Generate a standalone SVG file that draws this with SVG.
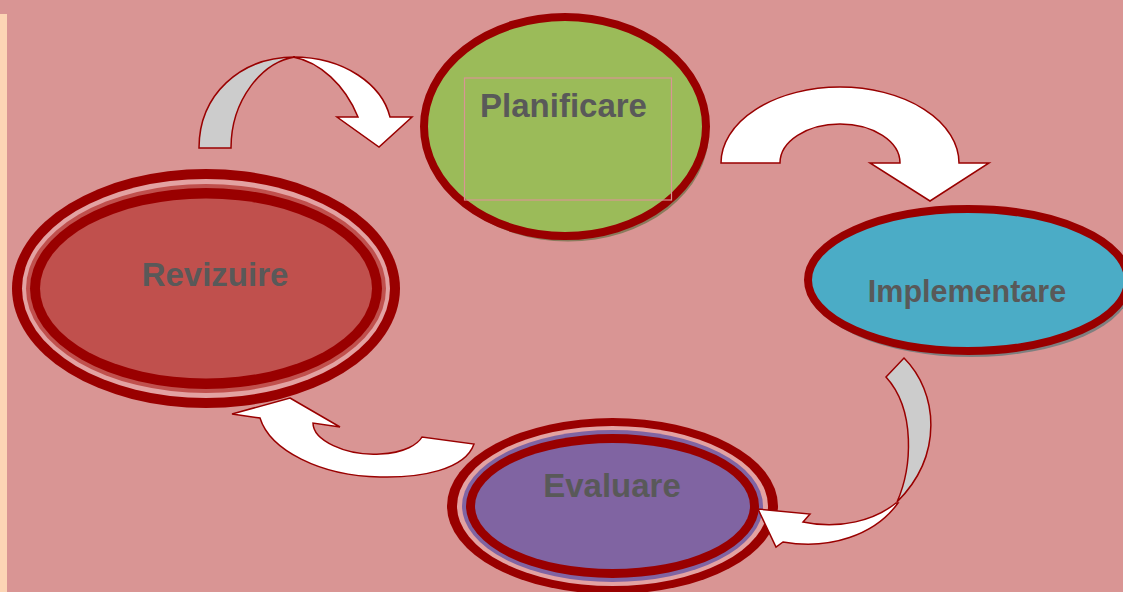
<svg xmlns="http://www.w3.org/2000/svg" width="1123" height="592" viewBox="0 0 1123 592">
  <style>
    .label { font-family: "Liberation Sans", Arial, sans-serif; font-weight: bold; fill: #595959; text-anchor: middle; }
    .arrow { stroke: #990000; stroke-width: 1.5; stroke-linejoin: miter; }
    .white { fill: #FFFFFF; }
    .grey { fill: #CCCCCC; }
    .ring { fill: #990000; }
  </style>

  <!-- page background -->
  <rect x="0" y="0" width="1123" height="592" fill="#D99594"/>
  <rect x="0" y="14" width="7" height="578" fill="#FCD5B5"/>

  <!-- Planificare -->
  <g id="node-planificare">
    <ellipse cx="568" cy="132" rx="141" ry="109.5" fill="#8A7A5C"/>
    <ellipse cx="565" cy="126.5" rx="141" ry="109.5" fill="#9BBB59" stroke="#990000" stroke-width="8"/>
    <rect x="464.5" y="78" width="207" height="122" fill="none" stroke="#D99594" stroke-width="1.2"/>
    <text class="label" x="563.5" y="117" font-size="33">Planificare</text>
  </g>

  <!-- Implementare -->
  <g id="node-implementare">
    <ellipse cx="971" cy="286" rx="160" ry="71" fill="#7F7F7F"/>
    <ellipse cx="968" cy="280" rx="160" ry="71" fill="#4BACC6" stroke="#990000" stroke-width="8"/>
    <text class="label" x="967" y="302" font-size="30.5">Implementare</text>
  </g>

  <!-- Evaluare: double border -->
  <g id="node-evaluare">
    <ellipse class="ring" cx="612.5" cy="506" rx="165.5" ry="88"/>
    <ellipse cx="612.5" cy="506" rx="155.5" ry="80" fill="#E3A2A2"/>
    <ellipse cx="612.5" cy="506" rx="150.5" ry="76" fill="#8064A2"/>
    <ellipse class="ring" cx="612.5" cy="506" rx="146.5" ry="72"/>
    <ellipse cx="612.5" cy="506" rx="137.5" ry="63" fill="#8064A2"/>
    <text class="label" x="612" y="497" font-size="33">Evaluare</text>
  </g>

  <!-- Revizuire: double border -->
  <g id="node-revizuire">
    <ellipse class="ring" cx="206" cy="288.5" rx="194" ry="119.5"/>
    <ellipse cx="206" cy="288.5" rx="184" ry="109.5" fill="#E3A2A2"/>
    <ellipse cx="206" cy="288.5" rx="180" ry="104.5" fill="#C0504D"/>
    <ellipse class="ring" cx="206" cy="288.5" rx="176" ry="100.5"/>
    <ellipse cx="206" cy="288.5" rx="166" ry="90" fill="#C0504D"/>
    <text class="label" x="215" y="286" font-size="33">Revizuire</text>
  </g>

  <!-- curved block arrows between the stages -->
  <g id="connectors">
    <!-- Revizuire to Planificare -->
    <path class="arrow grey" d="M199,148 C199,95 240,57 295,57 C262,62 231,100 231,148 Z"/>
    <path class="arrow white" d="M293,57 C345,57 382,85 390,117 L412,117 L379,147 L337,117 L358,117 C345,85 320,62 293,57 Z"/>

    <!-- Planificare to Implementare -->
    <path class="arrow white" d="M721,163 A119,76 0 0 1 959,163 L989,163 L930,201 L870,163 L900,163 A60,39 0 0 0 780,163 Z"/>

    <!-- Implementare to Evaluare -->
    <path class="arrow grey" d="M904,358 C938,392 944,455 897,502 C912,468 916,410 886,377 Z"/>
    <path class="arrow white" d="M898,503 C875,535 830,550 783,542 L776,547 L758,509 L810,514 L803,522 C840,530 875,520 896,503 Z"/>

    <!-- Evaluare to Revizuire -->
    <path class="arrow white" d="M290,398 L340,427 L313,423 C313,440 345,456 380,454 C405,453 418,444 422,437 L474,444 C465,470 420,478 380,477 C320,476 270,450 260,418 L232,414 Z"/>
  </g>
</svg>
